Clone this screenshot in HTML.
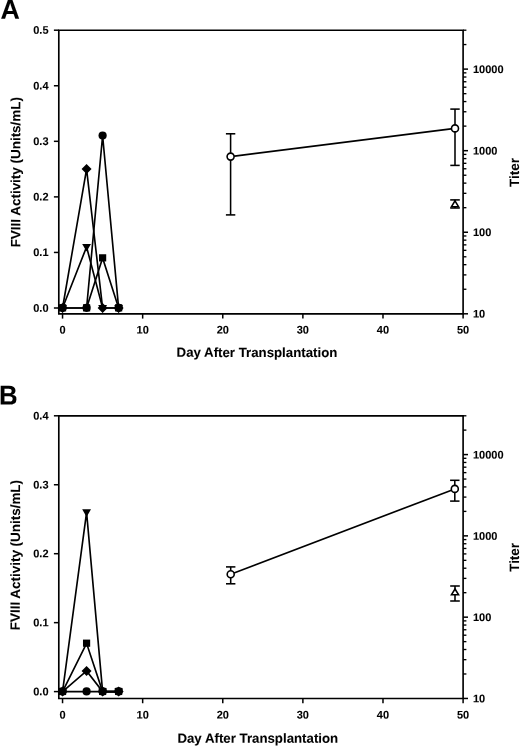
<!DOCTYPE html>
<html><head><meta charset="utf-8"><title>Figure</title>
<style>
html,body{margin:0;padding:0;background:#fff;}
body{width:520px;height:747px;overflow:hidden;}
svg{display:block;will-change:transform;}
text{font-family:"Liberation Sans",sans-serif;font-weight:bold;fill:#000;stroke:#000;stroke-width:0.08px;}
</style></head><body>
<svg width="520" height="747" viewBox="0 0 520 747">
<rect width="520" height="747" fill="#fff"/>
<path d="M58.80,313.80 L58.80,30.20 L463.10,30.20 L463.10,313.80 Z" fill="none" stroke="#000" stroke-width="1.65" stroke-linejoin="miter"/>
<line x1="53.90" y1="308.00" x2="58.80" y2="308.00" stroke="#000" stroke-width="1.5" />
<text font-size="11.0" text-anchor="end" transform="translate(48.50,311.65) rotate(0.03)">0.0</text>
<line x1="53.90" y1="252.44" x2="58.80" y2="252.44" stroke="#000" stroke-width="1.5" />
<text font-size="11.0" text-anchor="end" transform="translate(48.50,256.09) rotate(0.03)">0.1</text>
<line x1="53.90" y1="196.88" x2="58.80" y2="196.88" stroke="#000" stroke-width="1.5" />
<text font-size="11.0" text-anchor="end" transform="translate(48.50,200.53) rotate(0.03)">0.2</text>
<line x1="53.90" y1="141.32" x2="58.80" y2="141.32" stroke="#000" stroke-width="1.5" />
<text font-size="11.0" text-anchor="end" transform="translate(48.50,144.97) rotate(0.03)">0.3</text>
<line x1="53.90" y1="85.76" x2="58.80" y2="85.76" stroke="#000" stroke-width="1.5" />
<text font-size="11.0" text-anchor="end" transform="translate(48.50,89.41) rotate(0.03)">0.4</text>
<line x1="53.90" y1="30.20" x2="58.80" y2="30.20" stroke="#000" stroke-width="1.5" />
<text font-size="11.0" text-anchor="end" transform="translate(48.50,33.85) rotate(0.03)">0.5</text>
<line x1="62.55" y1="313.80" x2="62.55" y2="318.60" stroke="#000" stroke-width="1.5" />
<text font-size="11.0" text-anchor="middle" transform="translate(62.55,333.40) rotate(0.03)">0</text>
<line x1="142.66" y1="313.80" x2="142.66" y2="318.60" stroke="#000" stroke-width="1.5" />
<text font-size="11.0" text-anchor="middle" transform="translate(142.66,333.40) rotate(0.03)">10</text>
<line x1="222.77" y1="313.80" x2="222.77" y2="318.60" stroke="#000" stroke-width="1.5" />
<text font-size="11.0" text-anchor="middle" transform="translate(222.77,333.40) rotate(0.03)">20</text>
<line x1="302.88" y1="313.80" x2="302.88" y2="318.60" stroke="#000" stroke-width="1.5" />
<text font-size="11.0" text-anchor="middle" transform="translate(302.88,333.40) rotate(0.03)">30</text>
<line x1="382.99" y1="313.80" x2="382.99" y2="318.60" stroke="#000" stroke-width="1.5" />
<text font-size="11.0" text-anchor="middle" transform="translate(382.99,333.40) rotate(0.03)">40</text>
<line x1="463.10" y1="313.80" x2="463.10" y2="318.60" stroke="#000" stroke-width="1.5" />
<text font-size="11.0" text-anchor="middle" transform="translate(463.10,333.40) rotate(0.03)">50</text>
<line x1="463.10" y1="313.80" x2="468.00" y2="313.80" stroke="#000" stroke-width="1.5" />
<text font-size="11.0" text-anchor="start" transform="translate(473.00,317.60) rotate(0.03)">10</text>
<line x1="463.10" y1="289.25" x2="466.40" y2="289.25" stroke="#000" stroke-width="1.35" />
<line x1="463.10" y1="274.89" x2="466.40" y2="274.89" stroke="#000" stroke-width="1.35" />
<line x1="463.10" y1="264.69" x2="466.40" y2="264.69" stroke="#000" stroke-width="1.35" />
<line x1="463.10" y1="256.79" x2="466.40" y2="256.79" stroke="#000" stroke-width="1.35" />
<line x1="463.10" y1="250.33" x2="466.40" y2="250.33" stroke="#000" stroke-width="1.35" />
<line x1="463.10" y1="244.87" x2="466.40" y2="244.87" stroke="#000" stroke-width="1.35" />
<line x1="463.10" y1="240.14" x2="466.40" y2="240.14" stroke="#000" stroke-width="1.35" />
<line x1="463.10" y1="235.97" x2="466.40" y2="235.97" stroke="#000" stroke-width="1.35" />
<line x1="463.10" y1="232.24" x2="468.00" y2="232.24" stroke="#000" stroke-width="1.5" />
<text font-size="11.0" text-anchor="start" transform="translate(473.00,236.04) rotate(0.03)">100</text>
<line x1="463.10" y1="207.69" x2="466.40" y2="207.69" stroke="#000" stroke-width="1.35" />
<line x1="463.10" y1="193.32" x2="466.40" y2="193.32" stroke="#000" stroke-width="1.35" />
<line x1="463.10" y1="183.13" x2="466.40" y2="183.13" stroke="#000" stroke-width="1.35" />
<line x1="463.10" y1="175.23" x2="466.40" y2="175.23" stroke="#000" stroke-width="1.35" />
<line x1="463.10" y1="168.77" x2="466.40" y2="168.77" stroke="#000" stroke-width="1.35" />
<line x1="463.10" y1="163.31" x2="466.40" y2="163.31" stroke="#000" stroke-width="1.35" />
<line x1="463.10" y1="158.58" x2="466.40" y2="158.58" stroke="#000" stroke-width="1.35" />
<line x1="463.10" y1="154.41" x2="466.40" y2="154.41" stroke="#000" stroke-width="1.35" />
<line x1="463.10" y1="150.68" x2="468.00" y2="150.68" stroke="#000" stroke-width="1.5" />
<text font-size="11.0" text-anchor="start" transform="translate(473.00,154.48) rotate(0.03)">1000</text>
<line x1="463.10" y1="126.12" x2="466.40" y2="126.12" stroke="#000" stroke-width="1.35" />
<line x1="463.10" y1="111.76" x2="466.40" y2="111.76" stroke="#000" stroke-width="1.35" />
<line x1="463.10" y1="101.57" x2="466.40" y2="101.57" stroke="#000" stroke-width="1.35" />
<line x1="463.10" y1="93.67" x2="466.40" y2="93.67" stroke="#000" stroke-width="1.35" />
<line x1="463.10" y1="87.21" x2="466.40" y2="87.21" stroke="#000" stroke-width="1.35" />
<line x1="463.10" y1="81.75" x2="466.40" y2="81.75" stroke="#000" stroke-width="1.35" />
<line x1="463.10" y1="77.02" x2="466.40" y2="77.02" stroke="#000" stroke-width="1.35" />
<line x1="463.10" y1="72.85" x2="466.40" y2="72.85" stroke="#000" stroke-width="1.35" />
<line x1="463.10" y1="69.11" x2="468.00" y2="69.11" stroke="#000" stroke-width="1.5" />
<text font-size="11.0" text-anchor="start" transform="translate(473.00,72.91) rotate(0.03)">10000</text>
<line x1="463.10" y1="44.56" x2="466.40" y2="44.56" stroke="#000" stroke-width="1.35" />
<line x1="463.10" y1="30.20" x2="466.40" y2="30.20" stroke="#000" stroke-width="1.35" />
<text font-size="13.45" text-anchor="middle" transform="translate(20.3,172.2) rotate(-89.97)">FVIII Activity (Units/mL)</text>
<text font-size="13.45" text-anchor="middle" transform="translate(519.1,172.5) rotate(-89.97)">Titer</text>
<text font-size="13.25" text-anchor="middle" transform="translate(256.95,356.90) rotate(0.03)">Day After Transplantation</text>
<text font-size="27.2" text-anchor="start" transform="translate(0.4,18.8) rotate(0.03) scale(0.985,1)">A</text>
<path d="M62.55,308.00 L86.58,308.00 L102.61,135.76 L118.63,308.00" fill="none" stroke="#000" stroke-width="1.65" stroke-linejoin="miter"/>
<path d="M62.55,308.00 L86.58,169.10 L102.61,308.00 L118.63,308.00" fill="none" stroke="#000" stroke-width="1.65" stroke-linejoin="miter"/>
<path d="M62.55,308.00 L86.58,246.88 L102.61,308.00 L118.63,308.00" fill="none" stroke="#000" stroke-width="1.65" stroke-linejoin="miter"/>
<path d="M62.55,308.00 L86.58,308.00 L102.61,258.00 L118.63,308.00" fill="none" stroke="#000" stroke-width="1.65" stroke-linejoin="miter"/>
<circle cx="62.55" cy="307.80" r="4.1" fill="#000"/>
<circle cx="86.58" cy="307.80" r="4.1" fill="#000"/>
<circle cx="102.61" cy="135.56" r="4.1" fill="#000"/>
<circle cx="118.63" cy="307.80" r="4.1" fill="#000"/>
<path d="M62.55,303.00 L67.55,308.00 L62.55,313.00 L57.55,308.00 Z" fill="#000"/>
<path d="M86.58,164.10 L91.58,169.10 L86.58,174.10 L81.58,169.10 Z" fill="#000"/>
<path d="M102.61,303.00 L107.61,308.00 L102.61,313.00 L97.61,308.00 Z" fill="#000"/>
<path d="M118.63,303.00 L123.63,308.00 L118.63,313.00 L113.63,308.00 Z" fill="#000"/>
<path d="M58.15,305.00 L66.95,305.00 L62.55,312.70 Z" fill="#000"/>
<path d="M82.18,243.88 L90.98,243.88 L86.58,251.58 Z" fill="#000"/>
<path d="M98.20,305.00 L107.01,305.00 L102.61,312.70 Z" fill="#000"/>
<path d="M114.23,305.00 L123.03,305.00 L118.63,312.70 Z" fill="#000"/>
<rect x="58.95" y="304.25" width="7.2" height="7.2" fill="#000"/>
<rect x="82.98" y="304.25" width="7.2" height="7.2" fill="#000"/>
<rect x="99.01" y="254.25" width="7.2" height="7.2" fill="#000"/>
<rect x="115.03" y="304.25" width="7.2" height="7.2" fill="#000"/>
<path d="M230.60,156.60 L455.00,128.40" fill="none" stroke="#000" stroke-width="1.65"/>
<line x1="230.60" y1="133.80" x2="230.60" y2="214.90" stroke="#000" stroke-width="1.5499999999999998" />
<line x1="225.90" y1="133.80" x2="235.30" y2="133.80" stroke="#000" stroke-width="1.5499999999999998" />
<line x1="225.90" y1="214.90" x2="235.30" y2="214.90" stroke="#000" stroke-width="1.5499999999999998" />
<circle cx="230.60" cy="156.60" r="3.5" fill="#fff" stroke="#000" stroke-width="1.6"/>
<line x1="455.00" y1="109.10" x2="455.00" y2="165.40" stroke="#000" stroke-width="1.5499999999999998" />
<line x1="450.30" y1="109.10" x2="459.70" y2="109.10" stroke="#000" stroke-width="1.5499999999999998" />
<line x1="450.30" y1="165.40" x2="459.70" y2="165.40" stroke="#000" stroke-width="1.5499999999999998" />
<circle cx="455.00" cy="128.40" r="3.5" fill="#fff" stroke="#000" stroke-width="1.6"/>
<line x1="455.00" y1="199.90" x2="455.00" y2="208.00" stroke="#000" stroke-width="1.5499999999999998" />
<line x1="450.20" y1="199.90" x2="459.80" y2="199.90" stroke="#000" stroke-width="1.5499999999999998" />
<line x1="450.20" y1="208.00" x2="459.80" y2="208.00" stroke="#000" stroke-width="1.5499999999999998" />
<path d="M455.00,200.90 L458.50,206.70 L451.50,206.70 Z" fill="#fff" stroke="#000" stroke-width="1.6" stroke-linejoin="miter"/>
<path d="M58.80,698.45 L58.80,415.80 L463.10,415.80 L463.10,698.45 Z" fill="none" stroke="#000" stroke-width="1.65" stroke-linejoin="miter"/>
<line x1="53.90" y1="691.60" x2="58.80" y2="691.60" stroke="#000" stroke-width="1.5" />
<text font-size="11.0" text-anchor="end" transform="translate(48.50,695.25) rotate(0.03)">0.0</text>
<line x1="53.90" y1="622.65" x2="58.80" y2="622.65" stroke="#000" stroke-width="1.5" />
<text font-size="11.0" text-anchor="end" transform="translate(48.50,626.30) rotate(0.03)">0.1</text>
<line x1="53.90" y1="553.70" x2="58.80" y2="553.70" stroke="#000" stroke-width="1.5" />
<text font-size="11.0" text-anchor="end" transform="translate(48.50,557.35) rotate(0.03)">0.2</text>
<line x1="53.90" y1="484.75" x2="58.80" y2="484.75" stroke="#000" stroke-width="1.5" />
<text font-size="11.0" text-anchor="end" transform="translate(48.50,488.40) rotate(0.03)">0.3</text>
<line x1="53.90" y1="415.80" x2="58.80" y2="415.80" stroke="#000" stroke-width="1.5" />
<text font-size="11.0" text-anchor="end" transform="translate(48.50,419.45) rotate(0.03)">0.4</text>
<line x1="62.55" y1="698.45" x2="62.55" y2="703.25" stroke="#000" stroke-width="1.5" />
<text font-size="11.0" text-anchor="middle" transform="translate(62.55,718.40) rotate(0.03)">0</text>
<line x1="142.66" y1="698.45" x2="142.66" y2="703.25" stroke="#000" stroke-width="1.5" />
<text font-size="11.0" text-anchor="middle" transform="translate(142.66,718.40) rotate(0.03)">10</text>
<line x1="222.77" y1="698.45" x2="222.77" y2="703.25" stroke="#000" stroke-width="1.5" />
<text font-size="11.0" text-anchor="middle" transform="translate(222.77,718.40) rotate(0.03)">20</text>
<line x1="302.88" y1="698.45" x2="302.88" y2="703.25" stroke="#000" stroke-width="1.5" />
<text font-size="11.0" text-anchor="middle" transform="translate(302.88,718.40) rotate(0.03)">30</text>
<line x1="382.99" y1="698.45" x2="382.99" y2="703.25" stroke="#000" stroke-width="1.5" />
<text font-size="11.0" text-anchor="middle" transform="translate(382.99,718.40) rotate(0.03)">40</text>
<line x1="463.10" y1="698.45" x2="463.10" y2="703.25" stroke="#000" stroke-width="1.5" />
<text font-size="11.0" text-anchor="middle" transform="translate(463.10,718.40) rotate(0.03)">50</text>
<line x1="463.10" y1="698.45" x2="468.00" y2="698.45" stroke="#000" stroke-width="1.5" />
<text font-size="11.0" text-anchor="start" transform="translate(473.00,702.25) rotate(0.03)">10</text>
<line x1="463.10" y1="673.98" x2="466.40" y2="673.98" stroke="#000" stroke-width="1.35" />
<line x1="463.10" y1="659.67" x2="466.40" y2="659.67" stroke="#000" stroke-width="1.35" />
<line x1="463.10" y1="649.51" x2="466.40" y2="649.51" stroke="#000" stroke-width="1.35" />
<line x1="463.10" y1="641.63" x2="466.40" y2="641.63" stroke="#000" stroke-width="1.35" />
<line x1="463.10" y1="635.20" x2="466.40" y2="635.20" stroke="#000" stroke-width="1.35" />
<line x1="463.10" y1="629.75" x2="466.40" y2="629.75" stroke="#000" stroke-width="1.35" />
<line x1="463.10" y1="625.04" x2="466.40" y2="625.04" stroke="#000" stroke-width="1.35" />
<line x1="463.10" y1="620.88" x2="466.40" y2="620.88" stroke="#000" stroke-width="1.35" />
<line x1="463.10" y1="617.16" x2="468.00" y2="617.16" stroke="#000" stroke-width="1.5" />
<text font-size="11.0" text-anchor="start" transform="translate(473.00,620.96) rotate(0.03)">100</text>
<line x1="463.10" y1="592.69" x2="466.40" y2="592.69" stroke="#000" stroke-width="1.35" />
<line x1="463.10" y1="578.38" x2="466.40" y2="578.38" stroke="#000" stroke-width="1.35" />
<line x1="463.10" y1="568.22" x2="466.40" y2="568.22" stroke="#000" stroke-width="1.35" />
<line x1="463.10" y1="560.34" x2="466.40" y2="560.34" stroke="#000" stroke-width="1.35" />
<line x1="463.10" y1="553.91" x2="466.40" y2="553.91" stroke="#000" stroke-width="1.35" />
<line x1="463.10" y1="548.46" x2="466.40" y2="548.46" stroke="#000" stroke-width="1.35" />
<line x1="463.10" y1="543.75" x2="466.40" y2="543.75" stroke="#000" stroke-width="1.35" />
<line x1="463.10" y1="539.59" x2="466.40" y2="539.59" stroke="#000" stroke-width="1.35" />
<line x1="463.10" y1="535.87" x2="468.00" y2="535.87" stroke="#000" stroke-width="1.5" />
<text font-size="11.0" text-anchor="start" transform="translate(473.00,539.67) rotate(0.03)">1000</text>
<line x1="463.10" y1="511.40" x2="466.40" y2="511.40" stroke="#000" stroke-width="1.35" />
<line x1="463.10" y1="497.09" x2="466.40" y2="497.09" stroke="#000" stroke-width="1.35" />
<line x1="463.10" y1="486.93" x2="466.40" y2="486.93" stroke="#000" stroke-width="1.35" />
<line x1="463.10" y1="479.05" x2="466.40" y2="479.05" stroke="#000" stroke-width="1.35" />
<line x1="463.10" y1="472.62" x2="466.40" y2="472.62" stroke="#000" stroke-width="1.35" />
<line x1="463.10" y1="467.18" x2="466.40" y2="467.18" stroke="#000" stroke-width="1.35" />
<line x1="463.10" y1="462.46" x2="466.40" y2="462.46" stroke="#000" stroke-width="1.35" />
<line x1="463.10" y1="458.30" x2="466.40" y2="458.30" stroke="#000" stroke-width="1.35" />
<line x1="463.10" y1="454.58" x2="468.00" y2="454.58" stroke="#000" stroke-width="1.5" />
<text font-size="11.0" text-anchor="start" transform="translate(473.00,458.38) rotate(0.03)">10000</text>
<line x1="463.10" y1="430.11" x2="466.40" y2="430.11" stroke="#000" stroke-width="1.35" />
<line x1="463.10" y1="415.80" x2="466.40" y2="415.80" stroke="#000" stroke-width="1.35" />
<text font-size="13.45" text-anchor="middle" transform="translate(19.9,555.1) rotate(-89.97)">FVIII Activity (Units/mL)</text>
<text font-size="13.45" text-anchor="middle" transform="translate(519.1,557.4) rotate(-89.97)">Titer</text>
<text font-size="13.25" text-anchor="middle" transform="translate(257.80,742.80) rotate(0.03)">Day After Transplantation</text>
<text font-size="27.2" text-anchor="start" transform="translate(-1.0,404.6) rotate(0.03) scale(0.947,1)">B</text>
<path d="M62.55,691.60 L86.58,691.60 L102.61,691.60 L118.63,691.60" fill="none" stroke="#000" stroke-width="1.65" stroke-linejoin="miter"/>
<path d="M62.55,691.60 L86.58,670.92 L102.61,691.60 L118.63,691.60" fill="none" stroke="#000" stroke-width="1.65" stroke-linejoin="miter"/>
<path d="M62.55,691.60 L86.58,512.33 L102.61,691.60 L118.63,691.60" fill="none" stroke="#000" stroke-width="1.65" stroke-linejoin="miter"/>
<path d="M62.55,691.60 L86.58,643.34 L102.61,691.60 L118.63,691.60" fill="none" stroke="#000" stroke-width="1.65" stroke-linejoin="miter"/>
<circle cx="62.55" cy="691.40" r="4.1" fill="#000"/>
<circle cx="86.58" cy="691.40" r="4.1" fill="#000"/>
<circle cx="102.61" cy="691.40" r="4.1" fill="#000"/>
<circle cx="118.63" cy="691.40" r="4.1" fill="#000"/>
<path d="M62.55,686.60 L67.55,691.60 L62.55,696.60 L57.55,691.60 Z" fill="#000"/>
<path d="M86.58,665.92 L91.58,670.92 L86.58,675.92 L81.58,670.92 Z" fill="#000"/>
<path d="M102.61,686.60 L107.61,691.60 L102.61,696.60 L97.61,691.60 Z" fill="#000"/>
<path d="M118.63,686.60 L123.63,691.60 L118.63,696.60 L113.63,691.60 Z" fill="#000"/>
<path d="M58.15,688.60 L66.95,688.60 L62.55,696.30 Z" fill="#000"/>
<path d="M82.18,509.33 L90.98,509.33 L86.58,517.03 Z" fill="#000"/>
<path d="M98.20,688.60 L107.01,688.60 L102.61,696.30 Z" fill="#000"/>
<path d="M114.23,688.60 L123.03,688.60 L118.63,696.30 Z" fill="#000"/>
<rect x="58.95" y="687.85" width="7.2" height="7.2" fill="#000"/>
<rect x="82.98" y="639.59" width="7.2" height="7.2" fill="#000"/>
<rect x="99.01" y="687.85" width="7.2" height="7.2" fill="#000"/>
<rect x="115.03" y="687.85" width="7.2" height="7.2" fill="#000"/>
<path d="M230.70,574.20 L454.80,488.90" fill="none" stroke="#000" stroke-width="1.65"/>
<line x1="230.70" y1="566.90" x2="230.70" y2="583.80" stroke="#000" stroke-width="1.5499999999999998" />
<line x1="226.00" y1="566.90" x2="235.40" y2="566.90" stroke="#000" stroke-width="1.5499999999999998" />
<line x1="226.00" y1="583.80" x2="235.40" y2="583.80" stroke="#000" stroke-width="1.5499999999999998" />
<circle cx="230.70" cy="574.20" r="3.5" fill="#fff" stroke="#000" stroke-width="1.6"/>
<line x1="454.80" y1="480.30" x2="454.80" y2="501.10" stroke="#000" stroke-width="1.5499999999999998" />
<line x1="450.10" y1="480.30" x2="459.50" y2="480.30" stroke="#000" stroke-width="1.5499999999999998" />
<line x1="450.10" y1="501.10" x2="459.50" y2="501.10" stroke="#000" stroke-width="1.5499999999999998" />
<circle cx="454.80" cy="488.90" r="3.5" fill="#fff" stroke="#000" stroke-width="1.6"/>
<line x1="455.00" y1="586.00" x2="455.00" y2="601.00" stroke="#000" stroke-width="1.5499999999999998" />
<line x1="450.20" y1="586.00" x2="459.80" y2="586.00" stroke="#000" stroke-width="1.5499999999999998" />
<line x1="450.20" y1="601.00" x2="459.80" y2="601.00" stroke="#000" stroke-width="1.5499999999999998" />
<path d="M455.00,589.00 L458.50,594.70 L451.50,594.70 Z" fill="#fff" stroke="#000" stroke-width="1.6" stroke-linejoin="miter"/>
</svg>
</body></html>
